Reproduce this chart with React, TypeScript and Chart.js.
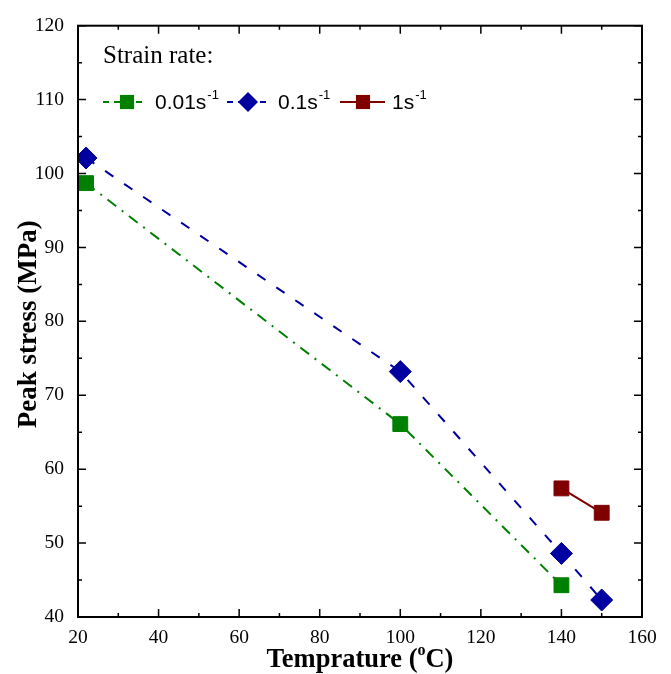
import React, { useEffect, useRef } from "react";
import { Chart, registerables } from "chart.js";
Chart.register(...registerables);

const temps001 = [22, 100, 140];
const stress001 = [98.7, 66.1, 44.3];
const temps01 = [22, 100, 140, 150];
const stress01 = [102.1, 73.2, 48.6, 42.3];
const temps1 = [140, 150];
const stress1 = [57.4, 54.1];
const seriesNames = ["0.01s", "0.1s", "1s"];
const seriesColors = ["#008000", "#0000A0", "#800000"];
const xMin = 20, xMax = 160, xStep = 20;
const yMin = 40, yMax = 120, yStep = 10;
const legendTitle = "Strain rate:";
const yTitle = "Peak stress (MPa)";
const xTitleA = "Temprature (";
const xTitleSup = "o";
const xTitleB = "C)";

const dashes = [[11, 7, 2, 7], [10, 13], []];
const styles = ["rect", "rectRot", "rect"];

const toPts = (xs: number[], ys: number[]) => xs.map((x, i) => ({ x, y: ys[i] }));

function drawMarker(ctx: CanvasRenderingContext2D, style: string, x: number, y: number, r: number, color: string) {
  ctx.save();
  ctx.fillStyle = color;
  ctx.setLineDash([]);
  ctx.beginPath();
  if (style === "rect") {
    const s = r * Math.SQRT1_2;
    ctx.rect(x - s, y - s, 2 * s, 2 * s);
  } else {
    ctx.moveTo(x - r, y);
    ctx.lineTo(x, y - r);
    ctx.lineTo(x + r, y);
    ctx.lineTo(x, y + r);
    ctx.closePath();
  }
  ctx.fill();
  ctx.restore();
}

const framePlugin = {
  id: "frameTicks",
  afterDraw(chart: any) {
    const { ctx, chartArea: a, scales } = chart;
    const xs = scales.x, ys = scales.y;
    ctx.save();
    ctx.strokeStyle = "#000";
    ctx.lineWidth = 2;
    ctx.setLineDash([]);
    ctx.strokeRect(a.left, a.top, a.right - a.left, a.bottom - a.top);
    ctx.lineWidth = 1.5;
    ctx.beginPath();
    for (let v = xMin; v <= xMax; v += xStep / 2) {
      const p = xs.getPixelForValue(v);
      const L = (v - xMin) % xStep === 0 ? 8 : 4;
      ctx.moveTo(p, a.bottom);
      ctx.lineTo(p, a.bottom - L);
      ctx.moveTo(p, a.top);
      ctx.lineTo(p, a.top + L);
    }
    for (let v = yMin; v <= yMax; v += yStep / 2) {
      const p = ys.getPixelForValue(v);
      const L = (v - yMin) % yStep === 0 ? 8 : 4;
      ctx.moveTo(a.left, p);
      ctx.lineTo(a.left + L, p);
      ctx.moveTo(a.right, p);
      ctx.lineTo(a.right - L, p);
    }
    ctx.stroke();

    // axis titles
    ctx.fillStyle = "#000";
    const big = 'bold 26.5px "Liberation Serif"';
    const small = 'bold 16px "Liberation Serif"';
    ctx.textBaseline = "alphabetic";
    ctx.font = big;
    const wA = ctx.measureText(xTitleA).width;
    const wB = ctx.measureText(xTitleB).width;
    ctx.font = small;
    const wS = ctx.measureText(xTitleSup).width;
    const total = wA + wS + wB;
    const cx = (a.left + a.right) / 2;
    const x0 = cx - total / 2;
    const base = 667;
    ctx.textAlign = "left";
    ctx.font = big;
    ctx.fillText(xTitleA, x0, base);
    ctx.font = small;
    ctx.fillText(xTitleSup, x0 + wA, base - 12);
    ctx.font = big;
    ctx.fillText(xTitleB, x0 + wA + wS, base);

    ctx.save();
    ctx.translate(36, (a.top + a.bottom) / 2 + 3);
    ctx.rotate(-Math.PI / 2);
    ctx.textAlign = "center";
    ctx.font = 'bold 27px "Liberation Serif"';
    ctx.fillText(yTitle, 0, 0);
    ctx.restore();

    // legend
    ctx.font = '25px "Liberation Serif"';
    ctx.textAlign = "left";
    ctx.fillText(legendTitle, 103, 63);
    const items = [
      { x0: 103, x1: 143, mx: 127, tx: 155 },
      { x0: 227, x1: 267, mx: 248, tx: 278 },
      { x0: 340, x1: 385, mx: 363, tx: 392 },
    ];
    const ly = 102;
    items.forEach((it, i) => {
      ctx.strokeStyle = seriesColors[i];
      ctx.lineWidth = 2;
      ctx.setLineDash(i === 2 ? [] : [6, 5]);
      ctx.beginPath();
      ctx.moveTo(it.x0, ly);
      ctx.lineTo(it.x1, ly);
      ctx.stroke();
      drawMarker(ctx, styles[i], it.mx, ly, 10, seriesColors[i]);
      ctx.fillStyle = "#000";
      ctx.font = '21px "Liberation Sans"';
      ctx.fillText(seriesNames[i], it.tx, 109);
      const w = ctx.measureText(seriesNames[i]).width;
      ctx.font = '13px "Liberation Sans"';
      ctx.fillText("-1", it.tx + w + 1, 99);
    });
    ctx.restore();
  },
};

export default function App() {
  const ref = useRef<HTMLCanvasElement>(null);
  useEffect(() => {
    document.body.style.margin = "0";
    const chart = new Chart(ref.current!, {
      type: "scatter",
      data: {
        datasets: [
          { label: seriesNames[0], data: toPts(temps001, stress001) },
          { label: seriesNames[1], data: toPts(temps01, stress01) },
          { label: seriesNames[2], data: toPts(temps1, stress1) },
        ].map((d, i) => ({
          ...d,
          showLine: true,
          borderColor: seriesColors[i],
          backgroundColor: seriesColors[i],
          borderWidth: 2,
          borderDash: dashes[i],
          pointStyle: styles[i] as any,
          pointRadius: styles[i] === "rect" ? 10.5 : 11,
          pointBorderWidth: 1,
          pointBackgroundColor: seriesColors[i],
          pointBorderColor: seriesColors[i],
        })),
      },
      options: {
        animation: false,
        responsive: false,
        layout: { padding: { top: 17, right: 29, left: 0, bottom: 0 } },
        plugins: { legend: { display: false }, tooltip: { enabled: false } },
        scales: {
          x: {
            type: "linear",
            min: xMin,
            max: xMax,
            grid: { display: false, drawTicks: false },
            border: { display: false },
            ticks: {
              stepSize: xStep,
              autoSkip: false,
              maxRotation: 0,
              padding: 9,
              color: "#000",
              font: { family: "Liberation Serif", size: 19.5 },
            },
            afterFit: (s: any) => { s.height = 57; },
          },
          y: {
            type: "linear",
            min: yMin,
            max: yMax,
            grid: { display: false, drawTicks: false },
            border: { display: false },
            ticks: {
              stepSize: yStep,
              autoSkip: false,
              padding: 14,
              color: "#000",
              font: { family: "Liberation Serif", size: 19.5 },
            },
            afterFit: (s: any) => { s.width = 78; },
          },
        },
      },
      plugins: [framePlugin],
    });
    return () => chart.destroy();
  }, []);
  return (
    <div style={{ width: 671, height: 674 }}>
      <canvas ref={ref} width={671} height={674} style={{ display: "block" }} />
    </div>
  );
}
